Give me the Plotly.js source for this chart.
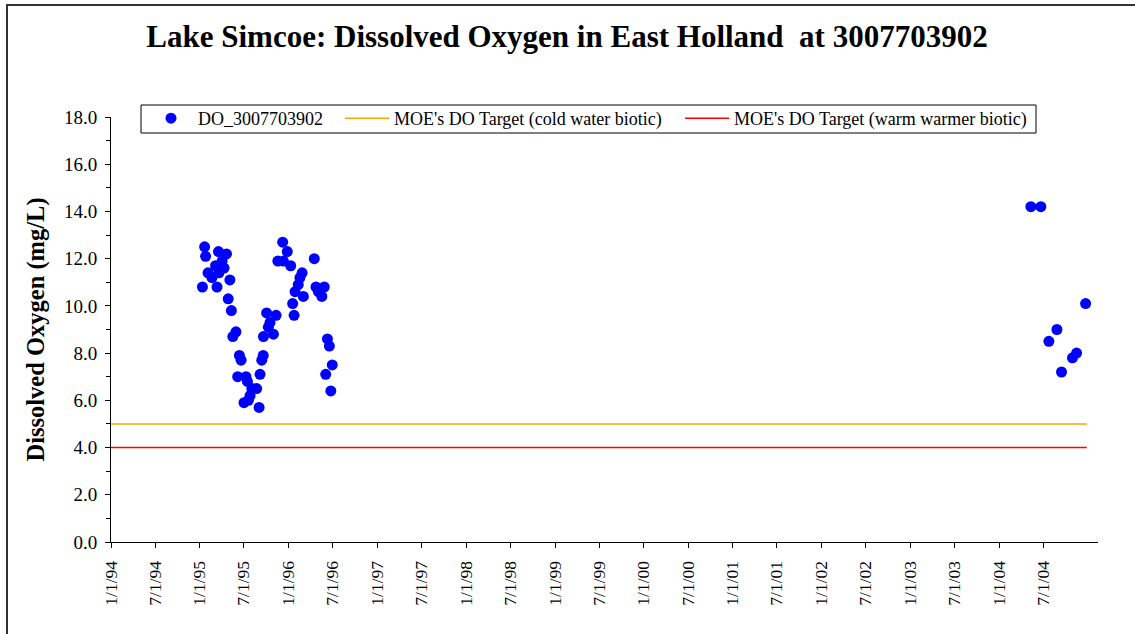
<!DOCTYPE html>
<html>
<head>
<meta charset="utf-8">
<script src="https://cdn.plot.ly/plotly-3.0.1.min.js"></script>
<style>
  html, body { margin: 0; padding: 0; background: #fff; }
  #chart { width: 1135px; height: 634px; }
  #frame { position: absolute; left: 6px; top: 4px; width: 1200px; height: 700px;
           border-left: 2px solid #333; border-top: 2px solid #333; pointer-events: none; }
</style>
</head>
<body>
<div id="chart"></div>
<div id="frame"></div>
<script>
// Sample dates and dissolved oxygen values (mg/L)
const sampleDates = [
  "1995-01-12","1995-01-21","1995-01-25","1995-02-04","1995-02-20","1995-03-07",
  "1995-03-13","1995-03-19","1995-03-21","1995-04-03","1995-04-11","1995-04-21",
  "1995-04-28","1995-05-05","1995-05-11","1995-05-17","1995-05-30","1995-06-06",
  "1995-06-13","1995-06-20","1995-07-02","1995-07-10","1995-07-16","1995-07-20",
  "1995-07-27","1995-08-03","1995-08-23","1995-09-02","1995-09-06","1995-09-13",
  "1995-09-19","1995-09-20","1995-10-03","1995-10-10","1995-10-17","1995-10-31",
  "1995-11-11","1995-11-18","1995-12-08","1995-12-11","1995-12-27","1996-01-10",
  "1996-01-18","1996-01-24","1996-01-28","1996-02-10","1996-02-17","1996-02-26",
  "1996-03-02","1996-04-16","1996-04-23","1996-05-03","1996-05-17","1996-05-27",
  "1996-06-02","1996-06-09","1996-06-17","1996-06-23","1996-06-29",
  "2004-05-11","2004-06-21","2004-07-24","2004-08-26","2004-09-14","2004-10-29",
  "2004-11-15","2004-12-22"
];
const doValues = [
  10.8, 12.5, 12.1, 11.4, 11.2, 11.7,
  10.8, 12.3, 11.4, 11.9, 11.6, 12.2,
  10.3, 11.1, 9.8, 8.7, 8.9, 7.0,
  7.9, 7.7, 5.9, 7.0, 6.8, 6.0,
  6.2, 6.5, 6.5, 5.7, 7.1, 7.7,
  7.9, 8.7, 9.7, 9.1, 9.3, 8.8,
  9.6, 11.9, 12.7, 11.9, 12.3, 11.7,
  10.1, 9.6, 10.6, 10.9, 11.2, 11.4,
  10.4, 12.0, 10.8, 10.6, 10.4, 10.8,
  7.1, 8.6, 8.3, 6.4, 7.5,
  14.2, 14.2, 8.5, 9.0, 7.2, 7.8,
  8.0, 10.1
];
// MOE targets
const targetDates = ["1994-01-01", "2004-12-27"];
const coldTarget = [5.0, 5.0];
const warmTarget = [4.0, 4.0];
// X axis tick dates and labels
const tickDates = [];
const tickLabels = [];
for (let y = 1994; y <= 2004; y++) {
  const yy = String(y).slice(2);
  tickDates.push(y + "-01-01"); tickLabels.push("1/1/" + yy);
  tickDates.push(y + "-07-01"); tickLabels.push("7/1/" + yy);
}
const yTicks = [0, 2, 4, 6, 8, 10, 12, 14, 16, 18];

const FONT = "Liberation Serif, Times New Roman, serif";

const traces = [
  {
    x: sampleDates, y: doValues, type: "scatter", mode: "markers",
    name: "DO_3007703902",
    marker: { color: "#0000FF", size: 11 },
    legend: "legend"
  },
  {
    x: targetDates, y: coldTarget, type: "scatter", mode: "lines",
    name: "MOE's DO Target (cold water biotic)",
    line: { color: "#FFA500", width: 1.6 },
    legend: "legend2"
  },
  {
    x: targetDates, y: warmTarget, type: "scatter", mode: "lines",
    name: "MOE's DO Target (warm warmer biotic)",
    line: { color: "#FF0000", width: 1.4 },
    legend: "legend3"
  }
];

const L = 111, R = 1098, T = 117, B = 542;
const pw = R - L, ph = B - T;
const px = v => (v - L) / pw;
const py = v => (B - v) / ph;

const legendCommon = {
  orientation: "h", yanchor: "middle", xanchor: "left",
  bgcolor: "rgba(0,0,0,0)", borderwidth: 0,
  font: { family: FONT, size: 18, color: "#000" },
  itemwidth: 44
};

const layout = {
  width: 1135, height: 634,
  margin: { l: L, r: 1135 - R, t: T, b: 634 - B },
  paper_bgcolor: "#fff", plot_bgcolor: "#fff",
  showlegend: true,
  title: {
    text: "<b>Lake Simcoe: Dissolved Oxygen in East Holland  at 3007703902</b>",
    font: { family: FONT, size: 31, color: "#000" },
    x: 567 / 1135, xref: "container", xanchor: "center", y: 1 - 36 / 634, yanchor: "middle"
  },
  xaxis: {
    type: "date",
    range: ["1994-01-01", "2005-02-11"],
    tickmode: "array", tickvals: tickDates, ticktext: tickLabels,
    tickangle: -90, ticks: "outside", ticklen: 5, tickcolor: "#000",
    ticklabelstandoff: 6,
    showline: true, linecolor: "#000", linewidth: 1,
    showgrid: false, zeroline: false,
    tickfont: { family: FONT, size: 17.5, color: "#000" }
  },
  yaxis: {
    range: [0, 18], tickmode: "array", tickvals: yTicks,
    tickformat: ".1f",
    ticks: "outside", ticklen: 5, tickcolor: "#000",
    ticklabelstandoff: 4,
    minor: { dtick: 1, ticks: "outside", ticklen: 4, tickcolor: "#000", showgrid: false },
    showline: true, linecolor: "#000", linewidth: 1,
    showgrid: false, zeroline: false,
    tickfont: { family: FONT, size: 19, color: "#000" },
    title: { text: "<b>Dissolved Oxygen (mg/L)</b>", font: { family: FONT, size: 24.5, color: "#000" }, standoff: 12 }
  },
  legend: Object.assign({}, legendCommon, { x: px(144), y: py(118.5) }),
  legend2: Object.assign({}, legendCommon, { x: px(340), y: py(118.5) }),
  legend3: Object.assign({}, legendCommon, { x: px(680), y: py(118.5) }),
  shapes: [
    { type: "rect", xref: "paper", yref: "paper",
      x0: px(141), x1: px(1036), y0: py(133), y1: py(105),
      line: { color: "#000", width: 1 }, fillcolor: "rgba(0,0,0,0)" }
  ]
};

Plotly.newPlot("chart", traces, layout, { displayModeBar: false, staticPlot: true });
</script>
</body>
</html>
